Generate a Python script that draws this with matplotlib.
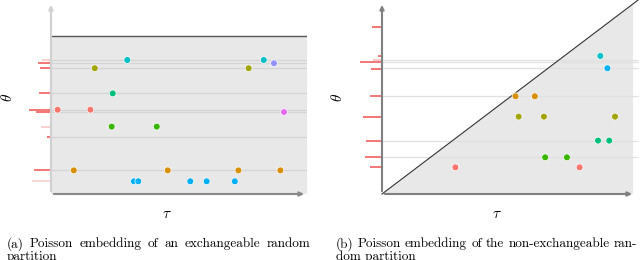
import matplotlib
matplotlib.use("Agg")
import matplotlib.pyplot as plt
from matplotlib.patches import Rectangle, Polygon

plt.rcParams['mathtext.fontset'] = 'cm'

# ---------------- data: left panel (exchangeable) ----------------
colors = {
    'red': '#F8766D', 'orange': '#D89000', 'olive': '#A3A500', 'green': '#39B600',
    'teal': '#00BF7D', 'cyan': '#00BFC4', 'blue': '#00B0F6', 'purple': '#9590FF',
    'pink': '#E76BF3',
}
a_cluster = ['red', 'red', 'orange', 'orange', 'orange', 'orange', 'olive', 'olive',
             'green', 'green', 'teal', 'cyan', 'cyan', 'blue', 'blue', 'blue', 'blue',
             'blue', 'purple', 'pink']
a_tau = [0.026, 0.154, 0.089, 0.456, 0.732, 0.896, 0.171, 0.772,
         0.237, 0.413, 0.241, 0.298, 0.831, 0.324, 0.341, 0.544, 0.608,
         0.718, 0.871, 0.910]
a_theta = [0.439, 0.439, 0.123, 0.123, 0.123, 0.123, 0.655, 0.655,
           0.351, 0.351, 0.524, 0.698, 0.698, 0.066, 0.066, 0.066, 0.066,
           0.066, 0.681, 0.427]
a_tick_theta = [0.698, 0.681, 0.655, 0.524, 0.439, 0.427, 0.351, 0.298, 0.123, 0.066]
a_tick_len = [0.034, 0.050, 0.043, 0.047, 0.086, 0.059, 0.039, 0.017, 0.066, 0.073]
a_tick_alpha = [0.35, 1, 1, 1, 1, 1, 0.35, 1, 1, 0.3]
a_lines = [0.698, 0.681, 0.655, 0.524, 0.4375, 0.429, 0.298, 0.123]
a_top = 0.823

# ---------------- data: right panel (non-exchangeable) ----------------
b_cluster = ['cyan', 'blue', 'orange', 'orange', 'olive', 'olive', 'olive',
             'teal', 'teal', 'green', 'green', 'red', 'red']
b_tau = [0.863, 0.891, 0.528, 0.604, 0.540, 0.640, 0.921,
         0.854, 0.898, 0.645, 0.731, 0.290, 0.781]
b_theta = [0.719, 0.655, 0.509, 0.509, 0.403, 0.403, 0.403,
           0.278, 0.278, 0.191, 0.191, 0.139, 0.139]
b_tick_theta = [0.870, 0.717, 0.698, 0.6875, 0.653, 0.509, 0.403, 0.276, 0.191, 0.139]
b_tick_len = [0.041, 0.017, 0.037, 0.087, 0.045, 0.047, 0.076, 0.063, 0.068, 0.047]
b_tick_alpha = [1, 1, 0.4, 1, 1, 1, 1, 1, 1, 1]
b_lines = [0.698, 0.6875, 0.655, 0.509, 0.278, 0.191]
b_right = 0.992

captions = ["(a) Poisson embedding of an exchangeable random", "partition",
            "(b) Poisson embedding of the non-exchangeable ran-", "dom partition"]

W, H = 640, 260
fig = plt.figure(figsize=(6.4, 2.6), dpi=100)
axA = fig.add_axes([51 / W, (H - 194) / H, 256 / W, 192 / H])
axB = fig.add_axes([382 / W, (H - 194) / H, 253 / W, 192 / H])

tick_red = '#F0605E'
for ax in (axA, axB):
    ax.set_xlim(0, 1)
    ax.set_ylim(0, 1)
    ax.set_xticks([])
    ax.set_yticks([])
    for s in ax.spines.values():
        s.set_visible(False)
    ax.patch.set_alpha(0)

# left panel
axA.add_patch(Rectangle((0, 0), 1, a_top, facecolor='#E8E8E8', edgecolor='none', zorder=0))
axA.plot([0, 1], [a_top, a_top], color='#555555', lw=1.0, zorder=1)
axA.hlines(a_lines, 0, 1, colors='#D4D4D4', lw=0.9, zorder=1)
for t, l, al in zip(a_tick_theta, a_tick_len, a_tick_alpha):
    axA.plot([-l, 0], [t, t], color=tick_red, lw=1.2, alpha=al, clip_on=False, solid_capstyle='butt')
axA.scatter(a_tau, a_theta, s=24, c=[colors[c] for c in a_cluster], edgecolors='white',
            linewidths=0.5, zorder=3)
axA.annotate('', xy=(0, 1.0), xytext=(0, 0), xycoords='axes fraction',
             arrowprops=dict(arrowstyle='-|>,head_length=0.25,head_width=0.12', color='#D0D0D0', lw=1.5))
axA.annotate('', xy=(1.0, 0), xytext=(0, 0), xycoords='axes fraction',
             arrowprops=dict(arrowstyle='-|>,head_length=0.25,head_width=0.12', color='#8A8A8A', lw=1.5))

# right panel
axB.add_patch(Polygon([(0, 0), (b_right, 0), (b_right, b_right)], closed=True,
                      facecolor='#E8E8E8', edgecolor='none', zorder=0))
axB.hlines(b_lines, 0, 1.01, colors='#E0E0E0', lw=0.9, zorder=1, clip_on=False)
axB.plot([0, 1.012], [0, 1.01], color='#333333', lw=0.8, zorder=2, clip_on=False)
for t, l, al in zip(b_tick_theta, b_tick_len, b_tick_alpha):
    axB.plot([-l, 0], [t, t], color=tick_red, lw=1.2, alpha=al, clip_on=False, solid_capstyle='butt')
axB.scatter(b_tau, b_theta, s=24, c=[colors[c] for c in b_cluster], edgecolors='white',
            linewidths=0.5, zorder=3)
axB.annotate('', xy=(0, 1.0), xytext=(0, 0), xycoords='axes fraction',
             arrowprops=dict(arrowstyle='-|>,head_length=0.25,head_width=0.12', color='#808080', lw=1.5))
axB.annotate('', xy=(1.0, 0), xytext=(0, 0), xycoords='axes fraction',
             arrowprops=dict(arrowstyle='-|>,head_length=0.25,head_width=0.12', color='#808080', lw=1.5))

# axis labels
fig.text(7 / W, 1 - 97 / H, r'$\theta$', rotation=90, ha='center', va='center', fontsize=11)
fig.text(337 / W, 1 - 97 / H, r'$\theta$', rotation=90, ha='center', va='center', fontsize=11)
fig.text(167 / W, 1 - 213 / H, r'$\tau$', ha='center', va='center', fontsize=11)
fig.text(497 / W, 1 - 213 / H, r'$\tau$', ha='center', va='center', fontsize=11)

# captions (justified first lines, like LaTeX)
fs = 9.5
renderer = fig.canvas.get_renderer()


def justified(text, x0, x1, y):
    words = text.split(' ')
    arts = [fig.text(0, y, w, ha='left', va='center', fontsize=fs, family='cmr10') for w in words]
    widths = [a.get_window_extent(renderer).width for a in arts]
    gap = ((x1 - x0) - sum(widths)) / (len(words) - 1)
    x = x0
    for a, w in zip(arts, widths):
        a.set_x(x / W)
        x += w + gap


justified(captions[0], 7, 310, 1 - 244 / H)
justified(captions[2], 336, 637, 1 - 244 / H)
fig.text(7 / W, 1 - 257 / H, captions[1], ha='left', va='center', fontsize=fs, family='cmr10')
fig.text(336 / W, 1 - 257 / H, captions[3], ha='left', va='center', fontsize=fs, family='cmr10')

fig.savefig('out.png', dpi=100)
